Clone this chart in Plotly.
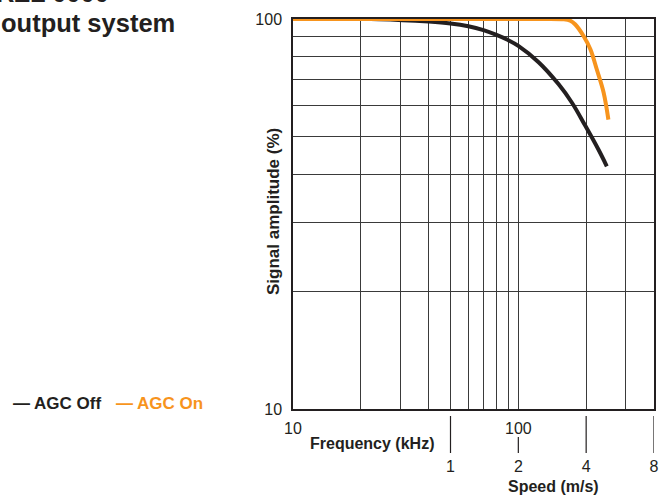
import numpy as np
import plotly.graph_objects as go

# AGC Off curve (black)
off_freq = [10, 24, 40, 50, 60, 70, 80, 90, 100, 123, 151, 173, 198, 227, 247]
off_amp = [100, 99.9, 98.5, 97.4, 95.8, 93.6, 91.0, 88.3, 85.3, 77.5, 68.0, 61.0, 53.3, 46.2, 41.9]

# AGC On curve (orange)
on_freq = [10, 60, 120, 159, 170, 179, 195, 209, 223, 239, 251]
on_amp = [100, 100, 100, 99.8, 99.0, 96.8, 90.3, 83.5, 74.2, 64.8, 55.2]

freq_grid = [10, 20, 30, 40, 50, 60, 70, 80, 90, 100, 200, 300, 400]
freq_labels = ["10", "", "", "", "", "", "", "", "", "100", "", "", ""]
amp_grid = [10, 20, 30, 40, 50, 60, 70, 80, 90, 100]
amp_labels = ["10", "", "", "", "", "", "", "", "", "100"]
speed_ticks = [1, 2, 4, 8]

BLACK = "#231f20"
ORANGE = "#f7941d"
GRID = "#3a3a3a"
FONT = "Liberation Sans, Arial, sans-serif"

W, H = 661, 496
L, R = 293, 654
top = 19
plot_bottom = 409
paper_bottom = 453
plot_w = R - L
paper_h = paper_bottom - top
ydom0 = (paper_bottom - plot_bottom) / paper_h


def px_x(x):
    return (x - L) / plot_w


def px_y(y):
    return (paper_bottom - y) / paper_h


def label(text, x, y, size=16, color=BLACK, xanchor="center", yanchor="middle", angle=0):
    fig.add_annotation(text=text, xref="paper", yref="paper", x=px_x(x), y=px_y(y),
                       xanchor=xanchor, yanchor=yanchor, textangle=angle, showarrow=False,
                       font=dict(size=size, color=color))


fig = go.Figure()
fig.add_trace(go.Scatter(x=off_freq, y=off_amp, mode="lines", line=dict(color=BLACK, width=4, shape="spline"),
                         showlegend=False))
fig.add_trace(go.Scatter(x=on_freq, y=on_amp, mode="lines", line=dict(color=ORANGE, width=4, shape="spline"),
                         showlegend=False))
# invisible trace so the speed axis exists
fig.add_trace(go.Scatter(x=speed_ticks, y=[50] * len(speed_ticks), xaxis="x2", mode="markers",
                         marker=dict(opacity=0), showlegend=False, hoverinfo="skip"))

fig.update_layout(
    width=W, height=H,
    margin=dict(l=L, r=W - R, t=top, b=H - paper_bottom, autoexpand=False),
    paper_bgcolor="white", plot_bgcolor="white",
    font=dict(family=FONT, size=16, color=BLACK),
    xaxis=dict(type="log", range=[1, np.log10(400)], tickvals=freq_grid, ticktext=freq_labels,
               showgrid=True, gridcolor=GRID, gridwidth=1, showline=True, linecolor=BLACK, linewidth=1.5,
               mirror=True, ticks="", ticklabelstandoff=4, zeroline=False, automargin=False),
    xaxis2=dict(type="log", range=[np.log10(0.2), np.log10(8.001)], overlaying="x", anchor="free", position=0,
                side="bottom", tickvals=speed_ticks, ticktext=[str(s) for s in speed_ticks],
                showgrid=False, showline=False, ticks="", ticklabelstandoff=2, zeroline=False,
                automargin=False, ticklabeloverflow="allow"),
    yaxis=dict(type="log", range=[1, 2], domain=[ydom0, 1], tickvals=amp_grid, ticktext=amp_labels,
               showgrid=True, gridcolor=GRID, gridwidth=1, showline=True, linecolor=BLACK, linewidth=1.5,
               mirror=True, ticks="", ticklabelstandoff=6, zeroline=False, automargin=False),
)

# speed tick marks (the "2" mark is shortened to clear the "100" label)
for s in speed_ticks:
    y1 = px_y(437) if s == 2 else px_y(416)
    fig.add_shape(type="line", xref="x2", yref="paper", x0=s, x1=s, y0=0, y1=y1,
                  line=dict(color=BLACK, width=1.2))

label("<b>Signal amplitude (%)</b>", 273, 212, size=17, angle=-90)
label("<b>Frequency (kHz)</b>", 372, 443)
label("<b>Speed (m/s)</b>", 553, 486)

# title, cut off at the top/left edge of the picture
label("<b>RZL 0000</b>", 111, 9, size=25.5, xanchor="right", yanchor="bottom")
label("<b>output system</b>", 177, 23, size=25.5, xanchor="right")

# legend as text
label("<b>— AGC Off</b>", 11, 403, size=17, xanchor="left")
label("<b>— AGC On</b>", 114, 403, size=17, color=ORANGE, xanchor="left")

# drop the browser's default body margin so the figure sits at the page origin
fig.write_html("out.html", config={"displayModeBar": False},
               post_script="document.body.style.margin='0';document.body.style.overflow='hidden';")
